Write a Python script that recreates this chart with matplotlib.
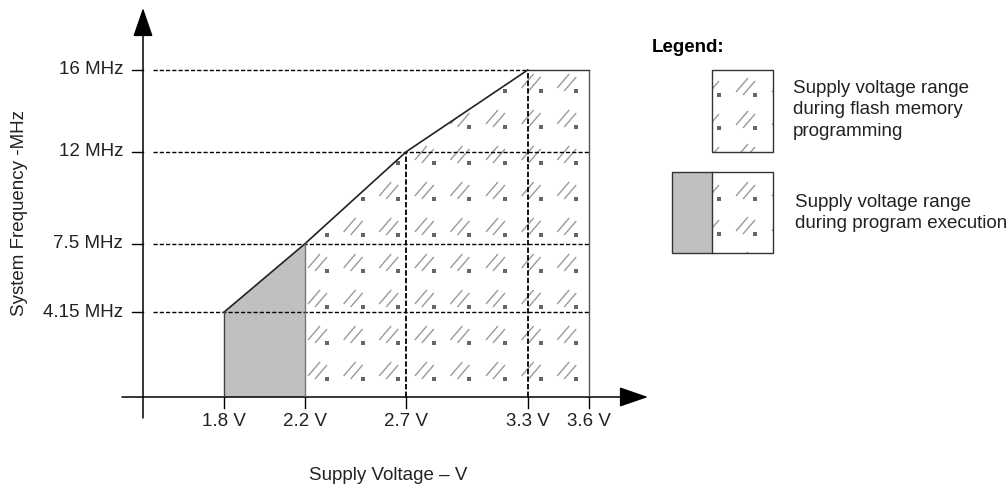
import matplotlib
matplotlib.use('Agg')
import matplotlib.pyplot as plt
from matplotlib.path import Path
from matplotlib.patches import Polygon, Rectangle
import numpy as np

plt.rcParams['font.family'] = ['Liberation Sans', 'DejaVu Sans']
plt.rcParams['font.size'] = 13.5

# operating limits
volt_ticks = [1.8, 2.2, 2.7, 3.3, 3.6]
volt_labels = ['1.8 V', '2.2 V', '2.7 V', '3.3 V', '3.6 V']
freq_ticks = [4.15, 7.5, 12, 16]
freq_labels = ['4.15 MHz', '7.5 MHz', '12 MHz', '16 MHz']
lim_v = np.array([1.8, 2.2, 2.7, 3.3, 3.6])
lim_f = np.array([4.15, 7.5, 12, 16, 16])
exec_v = 1.8
flash_v = 2.2
max_v = 3.6
legend_texts = ['Supply voltage range\nduring flash memory\nprogramming',
                'Supply voltage range\nduring program execution']

W, H = 1008, 488
fig = plt.figure(figsize=(W / 100, H / 100), dpi=100)
ax = fig.add_axes([0, 0, 1, 1])
# 1.8 V sits at x=224 px, 202.5 px per volt; 0 MHz at y=397 px, 20.44 px per MHz
x0, kx = 224, 202.5
y0, ky = 397, 20.44
ax.set_xlim(1.8 - x0 / kx, 1.8 + (W - x0) / kx)
ax.set_ylim(-(H - y0) / ky, y0 / ky)
ax.axis('off')

ax_v = 1.4  # where the frequency axis crosses

# hatch glyph "//." used by the datasheet
gverts = [(-10, -6), (2, 8), (-3, -9), (9, 5)]
gcodes = [Path.MOVETO, Path.LINETO, Path.MOVETO, Path.LINETO]
glyph = Path(gverts, gcodes)
gsize = (20 / 1.389) ** 2

# regions
gray_poly = [(exec_v, 0)] + list(zip(lim_v[:2], lim_f[:2])) + [(flash_v, 0)]
flash_poly = [(flash_v, 0)] + list(zip(lim_v[1:], lim_f[1:])) + [(max_v, 0)]
ax.add_patch(Polygon(gray_poly, closed=True, facecolor='#c0c0c0', edgecolor='none', zorder=1))
fp = Polygon(flash_poly, closed=True, facecolor='white', edgecolor='none', zorder=1)
ax.add_patch(fp)

cols = 2.2 + 13 / kx + np.arange(9) * 35.6 / kx
rows = 27 / ky + np.arange(9) * 36 / ky
gx, gy = np.meshgrid(cols, rows)
sc = ax.scatter(gx.ravel(), gy.ravel(), marker=glyph, s=gsize, facecolors='none',
                edgecolors='#9a9a9a', linewidths=1.0, zorder=2)
sc.set_clip_path(fp)
sd = ax.scatter(gx.ravel() + 9 / kx, gy.ravel() - 9 / ky, marker='s', s=5,
                color='#666666', linewidths=0, zorder=2)
sd.set_clip_path(fp)

# grid dashes
for f in freq_ticks:
    end = 3.3 if f == 16 else max_v
    ax.plot([ax_v + 10 / kx, end], [f, f], color='black', lw=1.0,
            linestyle=(0, (3, 1.5)), zorder=3)
for v, f in zip(lim_v[2:4], lim_f[2:4]):
    ax.plot([v, v], [0, f], color='black', lw=1.3, linestyle=(0, (3, 1.2)), zorder=3)

# region outlines
ax.plot(lim_v[:4], lim_f[:4], color='#222222', lw=1.2, zorder=4)
ax.plot(lim_v[3:], lim_f[3:], color='#333333', lw=1.0, zorder=4)
ax.plot([max_v, max_v], [0, lim_f[-1]], color='#555555', lw=1.0, zorder=4)
ax.plot([exec_v, exec_v], [0, lim_f[0]], color='#444444', lw=1.0, zorder=4)
ax.plot([flash_v, flash_v], [0, lim_f[1]], color='#777777', lw=1.0, zorder=4)

# axes with arrows
arrow = dict(arrowstyle='-|>,head_length=1.8,head_width=0.62', mutation_scale=10,
             color='black', lw=1.1, shrinkA=0, shrinkB=0)
ax.annotate('', xy=(ax_v, (y0 - 8) / ky), xytext=(ax_v, -(418 - y0) / ky), arrowprops=arrow)
ax.annotate('', xy=(1.8 + (648 - x0) / kx, 0), xytext=(1.8 - (x0 - 122) / kx, 0), arrowprops=arrow)

# ticks and labels
for f, lab in zip(freq_ticks, freq_labels):
    ax.plot([ax_v - 11 / kx, ax_v], [f, f], color='black', lw=1.0, zorder=4)
    ax.text(ax_v - 20 / kx, f, lab, ha='right', va='center', color='#222222')
for v, lab in zip(volt_ticks, volt_labels):
    ax.plot([v, v], [0, -11 / ky], color='black', lw=1.0, zorder=4)
    ax.text(v, -25 / ky, lab, ha='center', va='center', color='#222222')

# overlay in pixel coordinates for axis titles and legend
ax2 = fig.add_axes([0, 0, 1, 1])
ax2.set_xlim(0, W)
ax2.set_ylim(H, 0)
ax2.axis('off')

ax2.text(388, 476, 'Supply Voltage \u2013 V', ha='center', va='center', color='#222222')
ax2.text(20, 213, 'System Frequency -MHz', ha='center', va='center', rotation=90, color='#222222')

ax2.text(652, 47, 'Legend:', fontweight='bold', ha='left', va='center', color='black')

b1 = Rectangle((712, 70), 61, 82, facecolor='white', edgecolor='none')
ax2.add_patch(b1)
ax2.add_patch(Rectangle((672, 172), 40, 81, facecolor='#c0c0c0', edgecolor='none'))
b2 = Rectangle((712, 172), 61, 81, facecolor='white', edgecolor='none')
ax2.add_patch(b2)

lcols = np.array([710, 746, 782])
for box, lrows in [(b1, [86, 119, 152]), (b2, [190, 225, 260])]:
    lx, ly = np.meshgrid(lcols, lrows)
    s1 = ax2.scatter(lx.ravel(), ly.ravel(), marker=glyph, s=gsize, facecolors='none',
                     edgecolors='#9a9a9a', linewidths=1.0)
    s1.set_clip_path(box)
    s2 = ax2.scatter(lx.ravel() + 9, ly.ravel() + 9, marker='s', s=5,
                     color='#666666', linewidths=0)
    s2.set_clip_path(box)

ax2.add_patch(Rectangle((712, 70), 61, 82, facecolor='none', edgecolor='#333333', lw=1.0))
ax2.add_patch(Rectangle((672, 172), 101, 81, facecolor='none', edgecolor='#333333', lw=1.0))
ax2.plot([712, 712], [172, 253], color='#333333', lw=1.0)

ax2.text(793, 110, legend_texts[0], ha='left', va='center', linespacing=1.35, color='#222222')
ax2.text(795, 213, legend_texts[1], ha='left', va='center', linespacing=1.35, color='#222222')

fig.savefig('out.png', dpi=100, facecolor='white')
